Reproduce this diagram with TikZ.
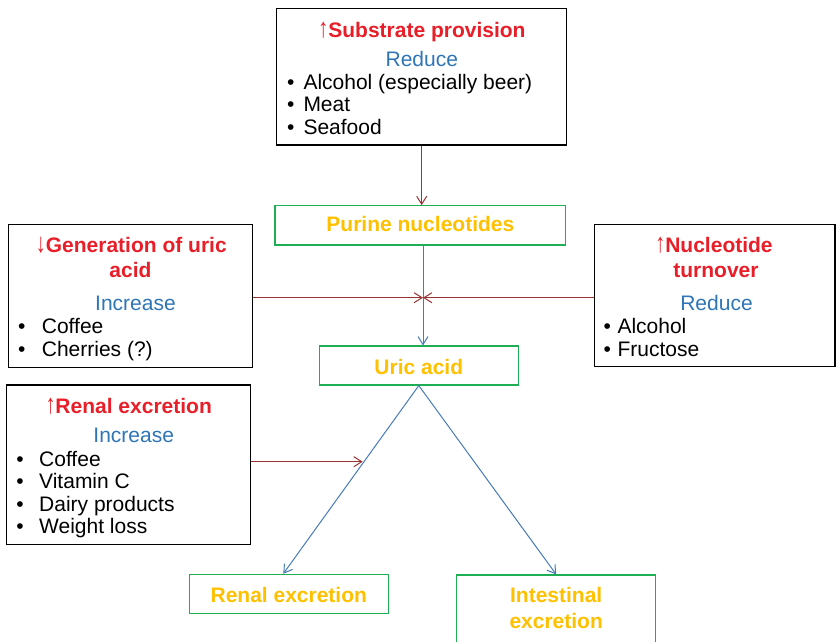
\documentclass[tikz,border=0pt]{standalone}
\usepackage{fontspec}
\setmainfont{Liberation Sans}
\usetikzlibrary{arrows.meta}
\definecolor{headred}{RGB}{232,30,40}
\definecolor{subblue}{RGB}{46,117,182}
\definecolor{gold}{RGB}{255,192,0}
\definecolor{stagegreen}{RGB}{30,175,85}
\definecolor{effectred}{RGB}{155,50,50}
\definecolor{flowblue}{RGB}{70,122,185}
% thin, tall direction arrows in front of the headings
\newcommand{\upmark}{\scalebox{0.95}[1.3]{↑}}
\newcommand{\downmark}{\scalebox{0.95}[1.3]{↓}}
\begin{document}
\begin{tikzpicture}[x=1pt,y=-1pt,
  txt/.style={inner sep=0pt, font=\fontsize{21}{25}\selectfont},
  head/.style={txt, anchor=base, text=headred},
  subhead/.style={txt, anchor=base, text=subblue},
  item/.style={txt, anchor=base west},
  dot/.style={txt, anchor=base},
  stagelabel/.style={inner sep=0pt, anchor=base, text=gold, font=\fontsize{21}{25}\selectfont\bfseries},
  factor/.style={draw=black, line width=1.1pt, inner sep=0pt},
  stage/.style={draw=stagegreen, line width=1.1pt, inner sep=0pt},
  effect/.style={draw=effectred, line width=1pt, -{Straight Barb[length=8pt,width=10pt]}},
  flow/.style={draw=flowblue, line width=1pt, -{Straight Barb[length=8pt,width=10pt]}}
]
\clip (0,0) rectangle (836,641);

% ---------- factor boxes ----------
\node[factor, minimum width=290pt, minimum height=136.7pt] (sub) at (421.7,76.65) {};
\node[factor, minimum width=244.4pt, minimum height=143pt] (gen) at (130.5,295.8) {};
\node[factor, minimum width=240.7pt, minimum height=142.4pt] (turn) at (714.65,295.5) {};
\node[factor, minimum width=244pt, minimum height=159.3pt] (ren) at (128.7,464.65) {};

% ---------- pathway boxes ----------
\node[stage, minimum width=290.7pt, minimum height=39.3pt] (purine) at (420.35,225.35) {};
\node[stage, minimum width=199pt, minimum height=39pt] (uric) at (418.8,365.5) {};
\node[stage, minimum width=199pt, minimum height=39pt] (renex) at (288.8,593.8) {};
\node[stage, minimum width=199pt, minimum height=80pt] (intex) at (556.2,615) {};

% ---------- pathway labels ----------
\node[stagelabel] (purineL) at (420.35,231.7) {Purine nucleotides};
\node[stagelabel] (uricL) at (418.8,374.3) {Uric acid};
\node[stagelabel] (renexL) at (288.8,602.3) {Renal excretion};
\node[stagelabel] (intexL1) at (556.2,602.7) {Intestinal};
\node[stagelabel] (intexL2) at (556.2,628.3) {excretion};

% ---------- substrate provision ----------
\node[head] (subH) at (422,37) {\upmark\textbf{Substrate provision}};
\node[subhead] (subS) at (421.8,66) {Reduce};
\node[dot] (subB1) at (290.7,89.3) {•};
\node[dot] (subB2) at (290.7,111.7) {•};
\node[dot] (subB3) at (290.7,134) {•};
\node[item] (subI1) at (303.3,89.3) {Alcohol (especially beer)};
\node[item] (subI2) at (303.3,111.7) {Meat};
\node[item] (subI3) at (303.3,134) {Seafood};

% ---------- generation of uric acid ----------
\node[head] (genH1) at (131.3,252.3) {\downmark\textbf{Generation of uric}};
\node[head] (genH2) at (130.5,277.3) {\textbf{acid}};
\node[subhead] (genS) at (135.5,310.7) {Increase};
\node[dot] (genB1) at (21.7,333.3) {•};
\node[dot] (genB2) at (21.7,356) {•};
\node[item] (genI1) at (41.7,333.3) {Coffee};
\node[item] (genI2) at (41.7,356) {Cherries (?)};

% ---------- nucleotide turnover ----------
\node[head] (turnH1) at (714,252.3) {\upmark\textbf{Nucleotide}};
\node[head] (turnH2) at (716,277.3) {\textbf{turnover}};
\node[subhead] (turnS) at (716.5,310.7) {Reduce};
\node[dot] (turnB1) at (607.3,333.3) {•};
\node[dot] (turnB2) at (607.3,356) {•};
\node[item] (turnI1) at (617.3,333.3) {Alcohol};
\node[item] (turnI2) at (617.3,356) {Fructose};

% ---------- renal excretion factors ----------
\node[head] (renH) at (128.7,413.3) {\upmark\textbf{Renal excretion}};
\node[subhead] (renS) at (133.7,442.3) {Increase};
\node[dot] (renB1) at (20,466) {•};
\node[dot] (renB2) at (20,488.3) {•};
\node[dot] (renB3) at (20,511) {•};
\node[dot] (renB4) at (20,533.3) {•};
\node[item] (renI1) at (39,466) {Coffee};
\node[item] (renI2) at (39,488.3) {Vitamin C};
\node[item] (renI3) at (39,511) {Dairy products};
\node[item] (renI4) at (39,533.3) {Weight loss};

% ---------- connectors ----------
\coordinate (meet) at (423,297.7);
\coordinate (renhit) at (362.7,461.7);

\draw[effect] (sub.south) -- (sub.south |- purine.north);
\draw[flow] ([xshift=2.65pt]purine.south) -- ([xshift=4.2pt]uric.north);
\draw[effect] (gen.east |- meet) -- (meet);
\draw[effect] (turn.west |- meet) -- (meet);
\draw[effect] (ren.east |- renhit) -- (renhit);
\draw[flow] (uric.south) -- ([xshift=-5.5pt]renex.north);
\draw[flow] (uric.south) -- (intex.north);
\end{tikzpicture}
\end{document}
